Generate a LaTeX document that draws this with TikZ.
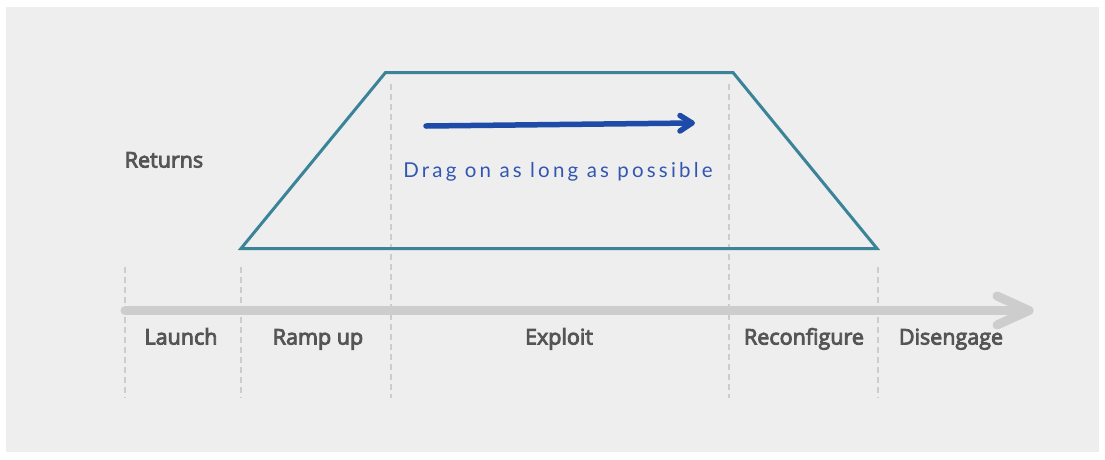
\documentclass[tikz,border=0pt]{standalone}
\usepackage{fontspec}
\setmainfont{Open Sans}
\newfontfamily\labelfont{Open Sans}[FakeBold=4]
\newfontfamily\dragfont{Lato}[LetterSpace=15.5]
\definecolor{bgc}{HTML}{EEEEEE}
\definecolor{teal}{HTML}{3A8398}
\definecolor{axisc}{HTML}{CDCDCD}
\definecolor{dashc}{HTML}{CCCCCC}
\definecolor{labc}{HTML}{555555}
\definecolor{bluec}{HTML}{1E4BA8}
\definecolor{bluet}{HTML}{3256B2}
\begin{document}
\begin{tikzpicture}[x=1pt,y=-1pt,
  phase/.style={font=\labelfont\fontsize{21.5}{25}\selectfont, text=labc, inner sep=0pt, anchor=base},
  divider/.style={draw=dashc, line width=2.2pt, dash pattern=on 6pt off 4pt},
  curve/.style={draw=teal, line width=3pt, line join=miter},
  timeaxis/.style={draw=axisc, line width=9pt, line cap=round, line join=round},
  dragarrow/.style={draw=bluec, line width=5.5pt, line cap=round, line join=round}]
\useasboundingbox (0,0) rectangle (1105,459);
\fill[white] (0,0) rectangle (1105,459);
\fill[bgc] (6,7) rectangle (1099,452);
% dividers
\coordinate (d1t) at (125,267); \coordinate (d1b) at (125,398);
\coordinate (d2t) at (241,267); \coordinate (d2b) at (241,398);
\coordinate (d3t) at (391,84);  \coordinate (d3b) at (391,398);
\coordinate (d4t) at (729,84);  \coordinate (d4b) at (729,398);
\coordinate (d5t) at (878,267); \coordinate (d5b) at (878,398);
\foreach \i in {1,...,5} {\draw[divider] (d\i t) -- (d\i b);}
% axis
\coordinate (a0) at (125,310.5);
\coordinate (a1) at (1029,310.5);
\coordinate (au) at (997,296);
\coordinate (al) at (997,325);
\draw[timeaxis] (a0) -- (a1);
\draw[timeaxis] (au) -- (a1) -- (al);
% trapezoid
\coordinate (bl) at (241,248.5);
\coordinate (tl) at (385.5,72.5);
\coordinate (tr) at (733,72.5);
\coordinate (br) at (877,248.5);
\draw[curve] (bl) -- (tl) -- (tr) -- (br) -- cycle;
% drag arrow
\coordinate (g0) at (426,126);
\coordinate (g1) at (692,123);
\coordinate (gu) at (680,115.5);
\coordinate (gl) at (680,131);
\draw[dragarrow] (g0) -- (g1);
\draw[dragarrow] (gu) -- (g1) -- (gl);
\node[font=\dragfont\fontsize{20.5}{23}\selectfont, text=bluet, inner sep=0pt, anchor=base] (drag) at (558,177.5) {Drag on as long as possible};
% labels
\node[phase] (returns) at (164,167.5) {Returns};
\node[phase] (launch) at (181,344.5) {Launch};
\node[phase] (ramp) at (318,344.5) {Ramp up};
\node[phase] (exploit) at (559,344.5) {Exploit};
\node[phase] (reconf) at (804,344.5) {Reconfigure};
\node[phase] (diseng) at (951,344.5) {Disengage};
\end{tikzpicture}
\end{document}
